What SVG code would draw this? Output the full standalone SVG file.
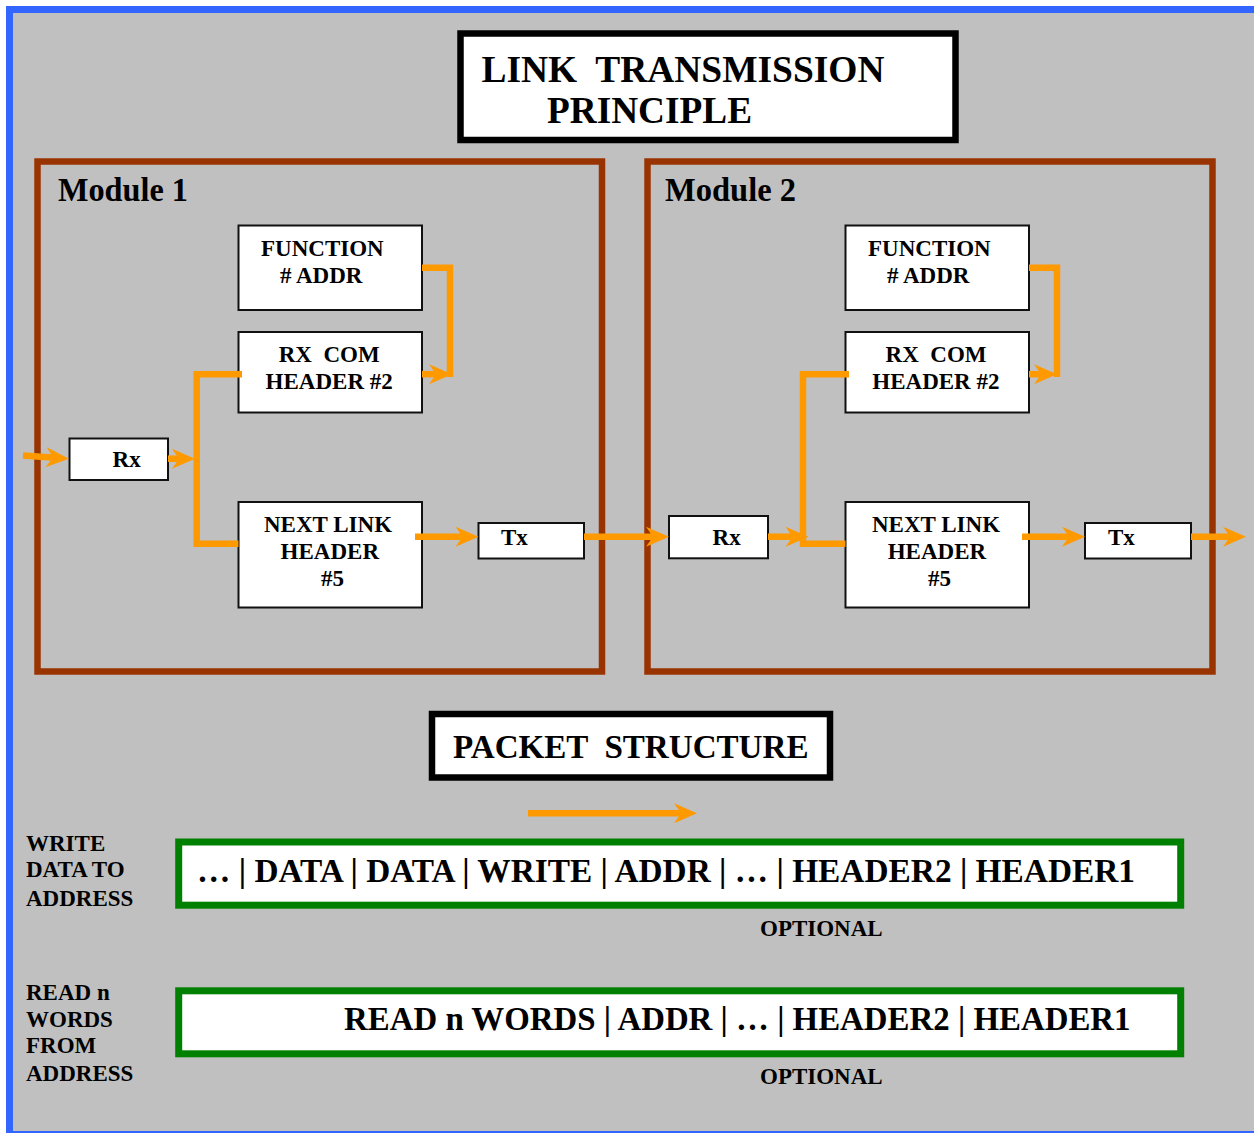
<svg xmlns="http://www.w3.org/2000/svg" width="1254" height="1133" viewBox="0 0 1254 1133">
<defs>
<style>
text{font-family:"Liberation Serif","Times New Roman",serif;font-weight:bold;fill:#000}
.box{fill:#fff;stroke:#111;stroke-width:2}
.mod{fill:none;stroke:#993300;stroke-width:6.5}
.t23{font-size:23px}
.conn{fill:none;stroke:#ff9900;stroke-width:6.5;stroke-linejoin:miter;stroke-linecap:butt}
.arr{marker-end:url(#ah)}
.pk{fill:#fff;stroke:#008000;stroke-width:7}
.ttl{fill:#fff;stroke:#000;stroke-width:6.5}
</style>
<marker id="ah" viewBox="-24 -11 25 22" refX="-14" refY="0" markerWidth="25" markerHeight="22" markerUnits="userSpaceOnUse" orient="auto">
<path d="M0,0 L-23,-10 L-16,0 L-23,10 Z" fill="#ff9900"/>
</marker>
</defs>
<rect x="0" y="0" width="1254" height="1133" fill="#fff"/>
<rect x="6" y="6" width="1260" height="1127" fill="#3366ff"/>
<rect x="13" y="13" width="1241" height="1118" fill="#c0c0c0"/>

<g id="title">
<rect class="ttl" x="460.5" y="33.5" width="495" height="106.5"/>
<text x="481.5" y="81.5" font-size="38" style="white-space:pre" textLength="403" lengthAdjust="spacingAndGlyphs">LINK  TRANSMISSION</text>
<text x="547" y="122.5" font-size="38" textLength="205" lengthAdjust="spacingAndGlyphs">PRINCIPLE</text>
</g>

<g id="module1">
<rect class="mod" x="37.5" y="161.5" width="564.5" height="510"/>
<text x="58" y="201" font-size="33" textLength="130" lengthAdjust="spacingAndGlyphs">Module 1</text>
</g>
<g id="module2">
<rect class="mod" x="647.5" y="161.5" width="565" height="510"/>
<text x="665" y="201" font-size="33" textLength="131" lengthAdjust="spacingAndGlyphs">Module 2</text>
</g>

<g id="m1-function">
<rect class="box" x="238.5" y="225.5" width="183.5" height="84.5"/>
<text class="t23" x="261" y="256">FUNCTION</text>
<text class="t23" x="280" y="282.7"># ADDR</text>
</g>
<g id="m1-rxcom">
<rect class="box" x="238.5" y="332" width="183.5" height="80.5"/>
<text class="t23" x="278.7" y="361.7" style="white-space:pre">RX  COM</text>
<text class="t23" x="265.6" y="389">HEADER #2</text>
</g>
<g id="m1-rx">
<rect class="box" x="69.5" y="438.5" width="98.5" height="41.5"/>
<text class="t23" x="112.6" y="467.3">Rx</text>
</g>
<g id="m1-nextlink">
<rect class="box" x="238.5" y="502" width="183.5" height="105.5"/>
<text class="t23" x="264" y="531.7">NEXT LINK</text>
<text class="t23" x="280.6" y="559">HEADER</text>
<text class="t23" x="321" y="585.7">#5</text>
</g>
<g id="m1-tx">
<rect class="box" x="478.5" y="523" width="105.5" height="35.5"/>
<text class="t23" x="501" y="545">Tx</text>
</g>

<g id="m2-function">
<rect class="box" x="845.5" y="225.5" width="183.5" height="84.5"/>
<text class="t23" x="868" y="256">FUNCTION</text>
<text class="t23" x="887" y="282.7"># ADDR</text>
</g>
<g id="m2-rxcom">
<rect class="box" x="845.5" y="332" width="183.5" height="80.5"/>
<text class="t23" x="885.6" y="361.7" style="white-space:pre">RX  COM</text>
<text class="t23" x="872.3" y="389">HEADER #2</text>
</g>
<g id="m2-rx">
<rect class="box" x="669" y="516" width="99" height="42.3"/>
<text class="t23" x="712.6" y="545">Rx</text>
</g>
<g id="m2-nextlink">
<rect class="box" x="845.5" y="502" width="183.5" height="105.5"/>
<text class="t23" x="872" y="531.7">NEXT LINK</text>
<text class="t23" x="887.7" y="559">HEADER</text>
<text class="t23" x="928" y="585.7">#5</text>
</g>
<g id="m2-tx">
<rect class="box" x="1085" y="523" width="106" height="35.5"/>
<text class="t23" x="1108" y="545">Tx</text>
</g>

<g id="connectors">
<path class="conn arr" d="M23,455.5 L55,457.8"/>
<path class="conn arr" d="M168,458.7 H181"/>
<path class="conn" d="M242,374.2 H196.7 V543.7 H238.5"/>
<path class="conn" d="M422,267.7 H450 V377"/>
<path class="conn arr" d="M422,374.2 H438"/>
<path class="conn arr" d="M415,536.7 H464.5"/>
<path class="conn arr" d="M584,536.7 H655"/>

<path class="conn arr" d="M768,536.7 H794.5"/>
<path class="conn" d="M849,374.2 H803 V543.7 H845.5"/>
<path class="conn" d="M1029,267.7 H1057 V377"/>
<path class="conn arr" d="M1029,374.2 H1043"/>
<path class="conn arr" d="M1022,536.7 H1071"/>
<path class="conn arr" d="M1191,536.7 H1232"/>

<path class="conn arr" d="M528,813.3 H683"/>
</g>

<g id="packet-title">
<rect class="ttl" x="432" y="714" width="398" height="63.5"/>
<text x="453" y="758.3" font-size="34" style="white-space:pre" textLength="355.5" lengthAdjust="spacingAndGlyphs">PACKET  STRUCTURE</text>
</g>

<g id="write-label">
<text class="t23" x="26" y="850.7">WRITE</text>
<text class="t23" x="26" y="877.3">DATA TO</text>
<text class="t23" x="26" y="905.7">ADDRESS</text>
</g>
<g id="write-packet">
<rect class="pk" x="178.7" y="842" width="1002" height="63.2"/>
<text x="197" y="881.7" font-size="33" textLength="938" lengthAdjust="spacingAndGlyphs">… | DATA | DATA | WRITE | ADDR | … | HEADER2 | HEADER1</text>
<text class="t23" x="760" y="935.7">OPTIONAL</text>
</g>

<g id="read-label">
<text class="t23" x="26" y="1000">READ n</text>
<text class="t23" x="26" y="1026.7">WORDS</text>
<text class="t23" x="26" y="1053.3">FROM</text>
<text class="t23" x="26" y="1081">ADDRESS</text>
</g>
<g id="read-packet">
<rect class="pk" x="178.7" y="990.8" width="1002" height="63"/>
<text x="344" y="1030" font-size="33" textLength="786.5" lengthAdjust="spacingAndGlyphs">READ n WORDS | ADDR | … | HEADER2 | HEADER1</text>
<text class="t23" x="760" y="1084">OPTIONAL</text>
</g>
</svg>
